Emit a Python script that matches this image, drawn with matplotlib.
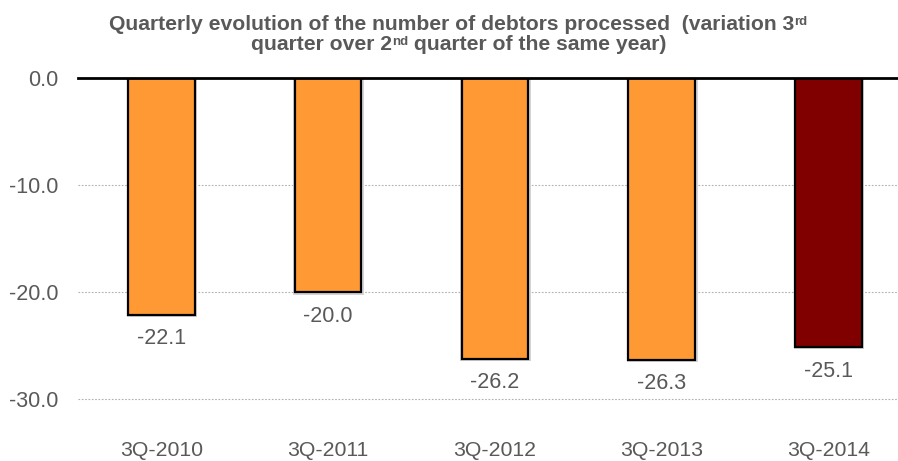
import matplotlib
matplotlib.use("Agg")
import matplotlib.pyplot as plt
import numpy as np

categories = ["3Q-2010", "3Q-2011", "3Q-2012", "3Q-2013", "3Q-2014"]
values = [-22.1, -20.0, -26.2, -26.3, -25.1]
bar_colors = ["#FF9933", "#FF9933", "#FF9933", "#FF9933", "#800000"]
yticks = [0.0, -10.0, -20.0, -30.0]

plt.rcParams['font.family'] = ['Liberation Sans', 'DejaVu Sans']
TXT = "#595959"

W, H = 898, 461
fig = plt.figure(figsize=(W / 100, H / 100), dpi=100)
left, right = 78 / W, 898 / W
top, bottom = 1 - 77.5 / H, 1 - 401.5 / H
ax = fig.add_axes([left, bottom, right - left, top - bottom])

x = np.arange(len(categories))
# soft shadow behind bars
ax.bar(x + 0.004, np.array(values) - 0.25, width=0.425, color="#d4d4d4", edgecolor="none", zorder=2)
bars = ax.bar(x, values, width=0.4, color=bar_colors, edgecolor="black", linewidth=1.6, zorder=3)

for xi, v in zip(x, values):
    ax.annotate(f"{v:.1f}", xy=(xi, v), xytext=(0, -17.5), textcoords="offset points",
                ha="center", va="center", fontsize=15.5, color=TXT)

ax.set_ylim(-30.2, 0)
ax.set_xlim(-0.5, -0.5 + (898 - 78) / 166.75)
ax.set_yticks(yticks)
ax.set_yticklabels([f"{t:.1f}" for t in yticks])
ax.set_xticks(x)
ax.set_xticklabels(categories)
ax.tick_params(axis="y", length=0, pad=14, labelsize=15.5, labelcolor=TXT)
ax.tick_params(axis="x", length=0, pad=28.5, labelsize=15.3, labelcolor=TXT)

for s in ax.spines.values():
    s.set_visible(False)
ax.yaxis.grid(True, linestyle=(0, (1.5, 1.5)), color="#b0b0b0", linewidth=0.8, zorder=0)
ax.set_axisbelow(True)
ax.axhline(0, color="black", linewidth=2.0, zorder=4, clip_on=False)

# Title with superscripts
fs = 15.2
ssz = 9.5
fig.canvas.draw()
renderer = fig.canvas.get_renderer()

def make_line(parts, y_px, cx=458.5):
    texts = []
    for s, sup in parts:
        size = ssz if sup else fs
        t = fig.text(0, 0, s, fontsize=size, fontweight="bold", color=TXT, ha="left", va="baseline")
        texts.append((t, sup))
    widths = [t.get_window_extent(renderer).width for t, _ in texts]
    total = sum(widths)
    xs = cx - total / 2
    for (t, sup), w in zip(texts, widths):
        ypix = (H - y_px) + (5 if sup else 0)
        t.set_position((xs / W, ypix / H))
        xs += w

make_line([("Quarterly evolution of the number of debtors processed  (variation 3", False), ("rd", True)], 30)
make_line([("quarter over 2", False), ("nd", True), (" quarter of the same year)", False)], 50)

fig.savefig("out.png", dpi=100)
